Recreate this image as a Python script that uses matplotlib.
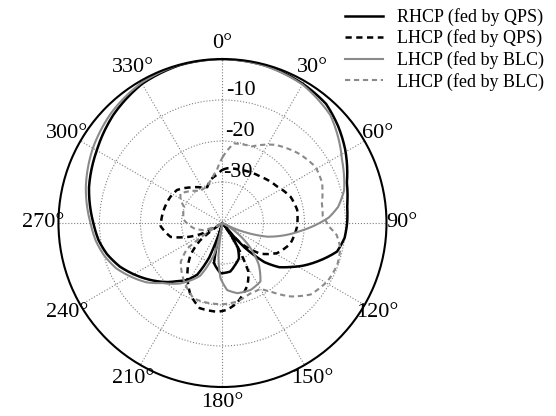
import numpy as np
import matplotlib
matplotlib.use('Agg')
import matplotlib.pyplot as plt

plt.rcParams['font.family'] = 'Liberation Serif'

# --- data (angle in degrees, gain in dB) ---
rhcp_qps_ang = [0, 15, 30, 41, 50, 59, 72, 82, 90, 97, 104, 112, 118, 123, 128, 133, 138, 142,
                148, 155, 162, 171, 182, 192, 197, 201, 206, 212, 218, 223, 232, 240, 247, 255,
                262, 270, 285, 300, 315, 330, 345, 360]
rhcp_qps_db = [0, -0.2, -0.8, -1.5, -3.2, -5.1, -8.1, -9.3, -9.6, -10.0, -11.2, -15.0, -17.8,
               -20.3, -22.5, -26.0, -32.0, -40.0, -33.0, -30.5, -29.5, -28.0, -27.7, -30.0,
               -40.0, -31.0, -26.0, -23.6, -22.0, -20.3, -17.5, -15.0, -12.8, -10.8, -9.5,
               -8.5, -6.3, -4.6, -2.5, -0.8, -0.1, 0]

lhcp_qps_ang = [0, 5, 19, 39, 56, 69, 80, 93, 107, 119, 129, 138, 143, 149, 152, 158, 170, 177,
                183, 195, 204, 214, 225, 232, 238, 243, 247, 255, 267, 282, 297, 306, 319, 330,
                337, 345, 353, 360]
lhcp_qps_db = [-27.0, -26.6, -26.3, -25.4, -24.0, -22.2, -21.5, -21.8, -22.7, -24.8, -28.1,
               -33.4, -40.0, -31.0, -26.5, -23.7, -20.1, -18.8, -18.3, -18.5, -20.8, -24.7,
               -29.0, -33.0, -40.0, -34.0, -31.5, -26.9, -24.9, -25.3, -25.8, -26.3, -28.5,
               -30.0, -30.5, -29.0, -28.2, -27.0]

rhcp_blc_ang = [0, 15, 30, 45, 62, 75, 82, 87, 96, 107, 118, 130, 139, 147, 157, 168, 176, 182,
                187, 190, 195, 203, 215, 225, 232, 240, 247, 255, 262, 270, 285, 300, 315, 330,
                345, 360]
rhcp_blc_db = [0, -0.3, -1.0, -2.8, -7.0, -9.3, -11.5, -14.0, -21.0, -28.6, -40.0, -32.0,
               -26.5, -23.0, -22.3, -22.5, -23.6, -26.5, -32.0, -40.0, -32.0, -26.0, -22.0,
               -19.3, -16.5, -14.0, -11.8, -10.0, -8.8, -7.8, -5.5, -3.5, -1.8, -0.5, 0, 0]

lhcp_blc_ang = [0, 8, 21, 34, 48, 59, 68, 79, 86, 92, 96, 102, 110, 119, 129, 137, 145, 150,
                159, 170, 179, 190, 201, 213, 227, 234, 240, 250, 259, 275, 293, 299, 305, 315,
                325, 337, 346, 354, 360]
lhcp_blc_db = [-24.0, -20.4, -20.0, -17.0, -14.8, -13.5, -13.8, -15.3, -15.5, -14.0, -12.0,
               -10.6, -10.2, -10.7, -12.3, -15.5, -19.6, -21.5, -21.5, -20.5, -20.2, -20.2,
               -20.3, -22.9, -26.1, -29.4, -40.0, -35.0, -33.0, -30.5, -29.8, -28.3, -27.5,
               -29.0, -30.5, -30.4, -29.0, -27.0, -24.0]

labels = ['RHCP (fed by QPS)', 'LHCP (fed by QPS)', 'LHCP (fed by BLC)', 'LHCP (fed by BLC)']
r_ticks = [-30, -20, -10]
theta_ticks = np.arange(0, 360, 30)

GRAY = '#8a8a8a'

#%% Plot
fig = plt.figure(figsize=(5.56, 4.16), dpi=100)
ax = fig.add_axes([0.1043, 0.0697, 0.5917, 0.7885], projection='polar')
ax.set_theta_zero_location('N')
ax.set_theta_direction(-1)
ax.set_ylim(-40, 0)

lines = []
lines += ax.plot(np.deg2rad(rhcp_qps_ang), rhcp_qps_db, '-', color='black', lw=1.8,
                 label=labels[0])
lines += ax.plot(np.deg2rad(lhcp_qps_ang), lhcp_qps_db, '--', color='black', lw=1.8,
                 dashes=(2.5, 1.8), label=labels[1])
lines += ax.plot(np.deg2rad(rhcp_blc_ang), rhcp_blc_db, '-', color=GRAY, lw=1.5,
                 label=labels[2])
lines += ax.plot(np.deg2rad(lhcp_blc_ang), lhcp_blc_db, '--', color=GRAY, lw=1.5,
                 dashes=(2.5, 1.8), label=labels[3])
# draw the segments as arcs in polar space instead of straight chords
for ln in lines:
    ln.get_path()._interpolation_steps = 12

ax.set_xticks(np.deg2rad(theta_ticks))
ax.set_xticklabels([f"{t}\u00b0" for t in theta_ticks], fontsize=16)
ax.tick_params(axis='x', direction='in', length=5, width=1.2, pad=4)
ax.set_yticks(r_ticks)
ax.set_yticklabels([])
for r in r_ticks:
    ax.text(np.deg2rad(1.5), r, f"-{abs(r)}", fontsize=16, ha='left', va='bottom')
ax.grid(True, linestyle=':', color='gray', linewidth=0.8)
ax.spines['polar'].set_linewidth(1.5)

fig.legend(loc='upper left', bbox_to_anchor=(345 / 556, 1 - 8 / 416), frameon=False,
           fontsize=13, handlelength=2.1, handletextpad=0.8, labelspacing=0.2,
           borderpad=0, borderaxespad=0)

fig.savefig('out.png', dpi=100)
